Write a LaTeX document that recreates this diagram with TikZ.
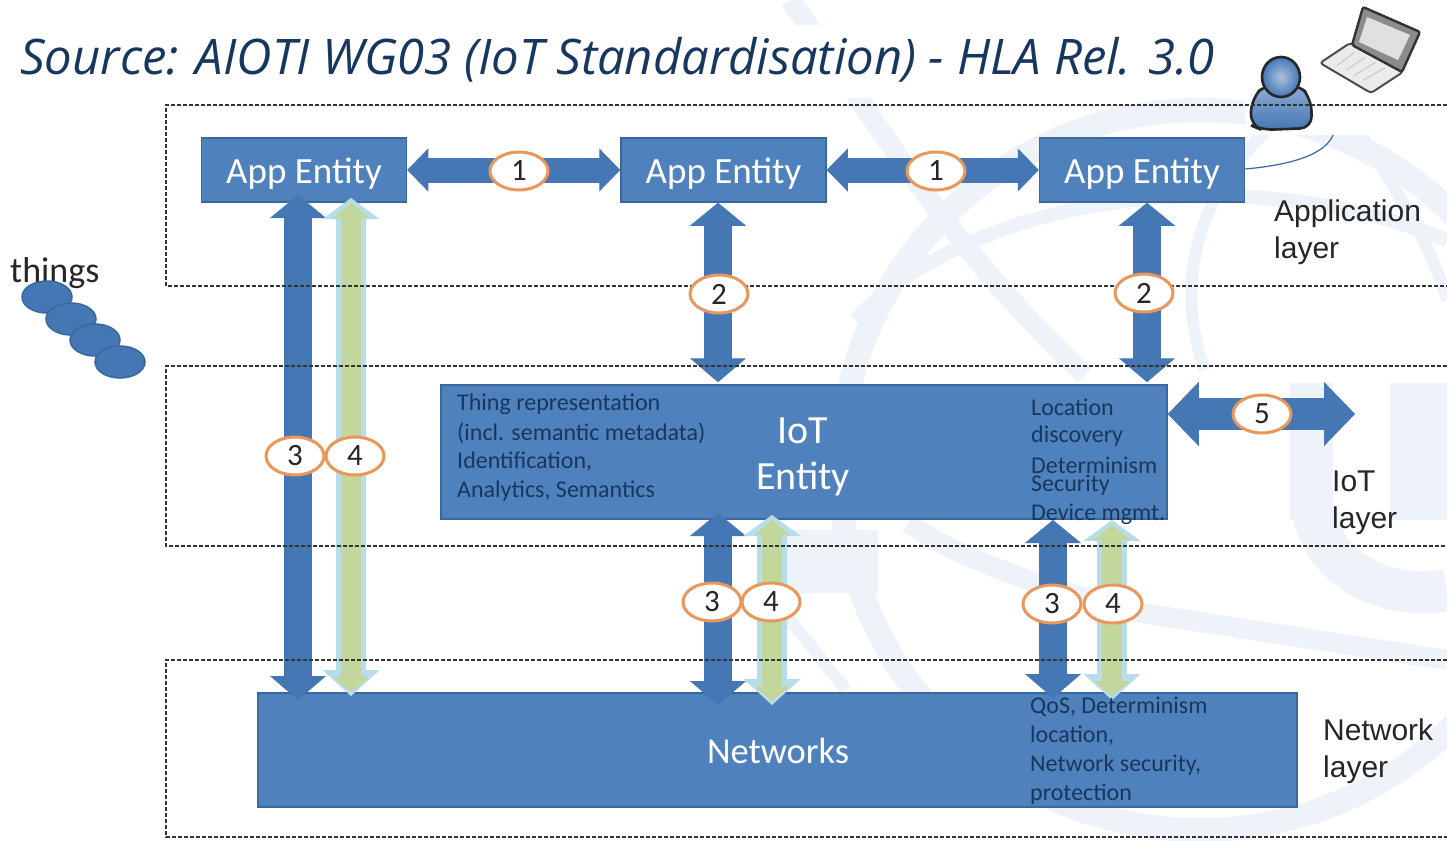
\documentclass[tikz,border=0pt]{standalone}
\usepackage{fontspec}
\setmainfont{Carlito}
\newfontfamily\arialf{Liberation Sans}
\newfontfamily\titlef{Open Sans}
\usetikzlibrary{arrows.meta,shapes.geometric,calc}
\definecolor{boxblue}{HTML}{4F81BD}
\definecolor{boxedge}{HTML}{3A679C}
\definecolor{arrowblue}{HTML}{4577B5}
\definecolor{arrowgreen}{HTML}{C3D69B}
\definecolor{arrowpale}{HTML}{B7DEE8}
\definecolor{navy}{HTML}{17375E}
\definecolor{ovaledge}{HTML}{E9975A}
\definecolor{wm}{HTML}{EEF3F9}
\tikzset{
 x=1pt,y=-1pt,
 bluebox/.style={draw=boxedge,line width=1.5pt,fill=boxblue,text=white,inner sep=0pt,align=center},
 layerline/.style={draw=black!80,line width=1.3pt,dash pattern=on 4pt off 2pt},
 vblue/.style={draw=arrowblue,line width=28pt,{Triangle[width=56pt,length=23pt,line width=1pt]}-{Triangle[width=56pt,length=24pt,line width=1pt]}},
 vpale/.style={draw=arrowpale,line width=30pt,{Triangle[width=57pt,length=21pt,line width=1pt]}-{Triangle[width=57pt,length=26pt,line width=1pt]}},
 vgreen/.style={draw=arrowgreen,line width=20pt,{Triangle[width=36pt,length=15pt,line width=1pt]}-{Triangle[width=36pt,length=15pt,line width=1pt]}},
 hblue/.style={draw=arrowblue,line width=25pt,{Triangle[width=43pt,length=21pt,line width=1pt]}-{Triangle[width=43pt,length=21pt,line width=1pt]}},
 hbig/.style={draw=arrowblue,line width=32pt,{Triangle[width=64pt,length=31pt,line width=1pt]}-{Triangle[width=64pt,length=31pt,line width=1pt]}},
 oval/.style={ellipse,draw=ovaledge,line width=3pt,fill=white,minimum width=58pt,minimum height=38pt,inner sep=0pt,font=\fontsize{31}{31}\selectfont,text=black!85},
 appbox/.style={bluebox,minimum width=205pt,minimum height=64pt,font=\fontsize{37}{37}\selectfont},
 smalltext/.style={anchor=west,inner sep=0pt,text=navy,font=\fontsize{24}{24}\selectfont},
 layertext/.style={anchor=west,inner sep=0pt,align=left,text=black!85,font=\arialf\fontsize{30}{37}\selectfont},
 thing/.style={ellipse,draw=boxedge,line width=1.5pt,fill=arrowblue,minimum width=50pt,minimum height=32pt,inner sep=0pt},
 wmline/.style={draw=wm,line width=#1},
}
\newcommand{\apptext}{\raisebox{-13pt}[0pt][0pt]{App Entity}}
\begin{document}
\begin{tikzpicture}
\useasboundingbox (0,0) rectangle (1447,840);
\fill[white] (0,0) rectangle (1447,840);
% watermark
\begin{scope}
\clip (0,0) rectangle (1447,840);
\draw[wmline=24pt] (1200,470) circle[radius=360];
\draw[wmline=20pt] (790,0) .. controls (870,110) and (950,250) .. (1085,375);
\draw[wmline=14pt] (855,320) .. controls (980,190) and (1250,160) .. (1447,240);
\draw[wmline=12pt] (1290,110) .. controls (1190,190) and (1175,290) .. (1205,370);
\draw[wmline=12pt] (1345,110) .. controls (1390,180) and (1430,240) .. (1447,300);
\fill[wm] (1290,383) rectangle (1333,520);
\fill[wm] (1390,383) rectangle (1447,520);
\draw[wmline=42pt] (1311,500) .. controls (1320,580) and (1400,600) .. (1447,590);
\fill[wm] (780,530) rectangle (878,593);
\draw[wmline=20pt] (908,523) .. controls (960,560) and (1050,590) .. (1142,613) -- (1447,660);
\draw[wmline=12pt] (782,610) -- (846,690);
\fill[white] (780,25) rectangle (1240,98);
\fill[white] (1245,5) rectangle (1440,135);
\end{scope}
% boxes
\node[appbox] (a1) at (304,170) {\apptext};
\node[appbox] (a2) at (723.5,170) {\apptext};
\node[appbox] (a3) at (1142,170) {\apptext};
\node[bluebox,minimum width=726pt,minimum height=134pt] (iot) at (804,452) {};
\node[bluebox,minimum width=1039pt,minimum height=114pt] (net) at (777.5,750) {};
\coordinate (e5) at (1355,414);
\coordinate (c2a) at (718,0);
\coordinate (c2b) at (1147,0);
% connectors
\draw[hblue] (a1.east) -- (a2.west);
\draw[hblue] (a2.east) -- (a3.west);
\draw[vblue] (a2.south -| c2a) -- ([yshift=2pt]iot.north -| c2a);
\draw[vblue] (a3.south -| c2b) -- ([yshift=2pt]iot.north -| c2b);
\draw[hbig] (iot.east |- e5) -- (e5);
\coordinate (t3a) at (298,195);
\coordinate (b3a) at (298,700);
\coordinate (t4a) at (351,198);
\coordinate (b4a) at (351,696);
\coordinate (t3b) at (718,513);
\coordinate (b3b) at (718,705);
\coordinate (t4b) at (772,515);
\coordinate (b4b) at (772,705);
\coordinate (t3c) at (1053,520);
\coordinate (b3c) at (1053,698);
\coordinate (t4c) at (1112,520);
\coordinate (b4c) at (1112,700);
\draw[vblue] (t3a) -- (b3a);
\draw[vpale] (t4a) -- (b4a);
\draw[vgreen] ([yshift=-5pt]t4a) -- ([yshift=4pt]b4a);
\draw[vblue] (t3b) -- (b3b);
\draw[vpale] (t4b) -- (b4b);
\draw[vgreen] ([yshift=-5pt]t4b) -- ([yshift=4pt]b4b);
\draw[vblue] (t3c) -- (b3c);
\draw[vpale] (t4c) -- (b4c);
\draw[vgreen] ([yshift=-5pt]t4c) -- ([yshift=4pt]b4c);
% person and laptop
\draw[black!85,line width=2.6pt,rounded corners=12pt,top color=arrowblue!60,bottom color=arrowblue] (1250,125) -- (1252,98) -- (1266,84) -- (1298,84) -- (1311,98) -- (1312,128) -- (1262,130) -- cycle;
\draw[black!85,line width=2.6pt,inner color=arrowblue!45,outer color=arrowblue] (1281,77) ellipse[x radius=19,y radius=20];
\draw[black!70,line width=2pt,fill=black!8,rounded corners=3pt] (1320,63) -- (1350,43) -- (1403,72) -- (1371,93) -- cycle;
\foreach \k in {0.2,0.4,0.6,0.8}{
  \draw[black!22,line width=1pt] ($(1345,47)!\k!(1395,73)$) -- ($(1328,61)!\k!(1372,85)$);
}
\draw[black!80,line width=2.4pt,fill=black!45,rounded corners=2pt] (1363,7) -- (1420,32) -- (1402,72) -- (1352,45) -- cycle;
\fill[blue!6!black!12] (1367,17) -- (1410,35) -- (1398,60) -- (1359,42) -- cycle;
\draw[boxedge,line width=1.2pt] (a3.east |- 0,169) .. controls (1290,165) and (1325,155) .. (1333,135);
% layers
\draw[layerline] (1447,105) -- (166,105) -- (166,286) -- (1447,286);
\draw[layerline] (1447,366) -- (166,366) -- (166,546) -- (1447,546);
\draw[layerline] (1447,660) -- (166,660) -- (166,837) -- (1447,837);
% things
\node[inner sep=0pt,anchor=west,text=black!85,font=\fontsize{36}{36}\selectfont] (thingstxt) at (10,273) {things};
\node[thing] (t1) at (47,297) {};
\node[thing] (t2) at (71,319) {};
\node[thing] (t3) at (95,340) {};
\node[thing] (t4) at (120,362) {};
% ovals
\node[oval] (o1a) at (519,171) {1};
\node[oval] (o1b) at (936,171) {1};
\node[oval] (o2a) at (719,294) {2};
\node[oval] (o2b) at (1144,293) {2};
\node[oval] (o3a) at (295,456) {3};
\node[oval] (o4a) at (355,456) {4};
\node[oval] (o5) at (1262,414) {5};
\node[oval] (o3b) at (712,602) {3};
\node[oval] (o4b) at (771,602) {4};
\node[oval] (o3c) at (1052,604) {3};
\node[oval] (o4c) at (1113,604) {4};
% texts
\node[anchor=west,inner sep=0pt,text=navy,font=\titlef\itshape\fontsize{49}{49}\selectfont] (title) at (20,60) {Source: AIOTI WG03 (IoT Standardisation) - HLA Rel. 3.0};
\node[inner sep=0pt,text=white,font=\fontsize{40}{40}\selectfont] (l1) at (803,431) {IoT};
\node[inner sep=0pt,text=white,font=\fontsize{40}{40}\selectfont] (l2) at (803,479) {Entity};
\node[inner sep=0pt,text=white,font=\fontsize{36.5}{36.5}\selectfont] (l3) at (778,751) {Networks};
\node[smalltext] (s1) at (457,404) {Thing representation};
\node[smalltext] (s2) at (457,433) {(incl. semantic metadata)};
\node[smalltext] (s3) at (457,462) {Identification,};
\node[smalltext] (s4) at (457,491) {Analytics, Semantics};
\node[smalltext] (r1) at (1031,407) {Location};
\node[smalltext] (r2) at (1031,436) {discovery};
\node[smalltext] (r3) at (1031,465) {Determinism};
\node[smalltext] (r4) at (1031,485) {Security};
\node[smalltext] (r5) at (1031,514) {Device mgmt.};
\node[smalltext] (n1) at (1030,707) {QoS, Determinism};
\node[smalltext] (n2) at (1030,736) {location,};
\node[smalltext] (n3) at (1030,765) {Network security,};
\node[smalltext] (n4) at (1030,794) {protection};
\node[layertext] (la) at (1274,232) {Application\\layer};
\node[layertext] (lb) at (1332,503) {IoT\\layer};
\node[layertext] (lc) at (1323,751) {Network\\layer};
\end{tikzpicture}
\end{document}
